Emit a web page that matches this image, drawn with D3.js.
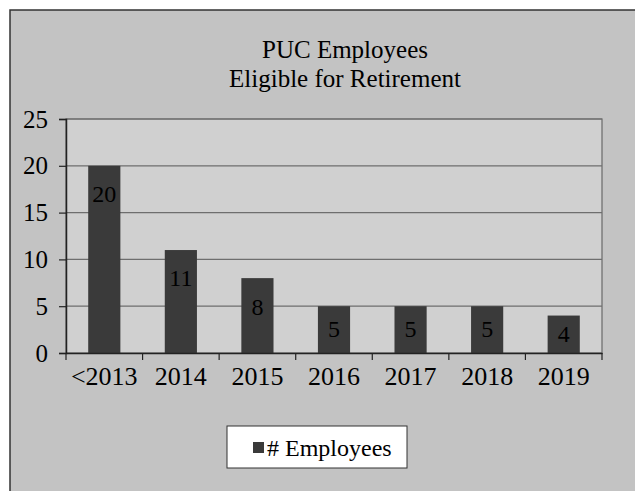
<!DOCTYPE html>
<html>
<head>
<meta charset="utf-8">
<script src="https://cdn.jsdelivr.net/npm/d3@7"></script>
<style>
  body { margin: 0; background: #fff; }
  text { font-family: "Liberation Serif", "Times New Roman", serif; fill: #000; }
</style>
</head>
<body>
<div id="chart"></div>
<script>
// data
var categories = ["<2013", "2014", "2015", "2016", "2017", "2018", "2019"];
var employees = [20, 11, 8, 5, 5, 5, 4];
var yTicks = [0, 5, 10, 15, 20, 25];
var seriesName = "# Employees";
var titleLines = ["PUC Employees", "Eligible for Retirement"];

var W = 635, H = 491;
var plot = {left: 66, right: 602, top: 119, bottom: 353};

var svg = d3.select("#chart").append("svg")
  .attr("width", W).attr("height", H);

// outer chart area
svg.append("rect")
  .attr("x", 10).attr("y", 10).attr("width", W).attr("height", H)
  .attr("fill", "#c3c3c3").attr("stroke", "#333").attr("stroke-width", 1.5);

// title
svg.selectAll(".title").data(titleLines).enter().append("text")
  .attr("class", "title")
  .attr("x", 345).attr("y", function(d, i) { return 58 + i * 29; })
  .attr("text-anchor", "middle").attr("font-size", 25)
  .text(function(d) { return d; });

var x = d3.scaleBand().domain(categories)
  .range([plot.left, plot.right]).paddingInner(0.58).paddingOuter(0.29);
var xOuter = d3.scaleBand().domain(categories).range([plot.left, plot.right]);
var y = d3.scaleLinear().domain([0, 25]).range([plot.bottom, plot.top]);

// plot area
svg.append("rect")
  .attr("x", plot.left).attr("y", plot.top)
  .attr("width", plot.right - plot.left).attr("height", plot.bottom - plot.top)
  .attr("fill", "#d0d0d0").attr("stroke", "#6a6a6a").attr("stroke-width", 1.2);

// gridlines
svg.selectAll(".grid").data(yTicks.slice(1)).enter().append("line")
  .attr("x1", plot.left).attr("x2", plot.right)
  .attr("y1", function(d) { return y(d); }).attr("y2", function(d) { return y(d); })
  .attr("stroke", "#6e6e6e").attr("stroke-width", 1.2);

// y axis
var yAxis = svg.append("g")
  .attr("transform", "translate(" + plot.left + ",0)")
  .call(d3.axisLeft(y).tickValues(yTicks).tickSize(7).tickPadding(11));
yAxis.select(".domain").attr("stroke", "#222").attr("stroke-width", 1.5);
yAxis.selectAll(".tick line").attr("stroke", "#222").attr("stroke-width", 1.2);
yAxis.selectAll("text").attr("font-size", 25).attr("fill", "#000")
  .style("font-family", "'Liberation Serif', serif");

// bars
svg.selectAll(".bar").data(employees).enter().append("rect")
  .attr("class", "bar")
  .attr("x", function(d, i) { return x(categories[i]); })
  .attr("width", x.bandwidth())
  .attr("y", function(d) { return y(d); })
  .attr("height", function(d) { return plot.bottom - y(d); })
  .attr("fill", "#3a3a3a");

// value labels
svg.selectAll(".val").data(employees).enter().append("text")
  .attr("class", "val")
  .attr("x", function(d, i) { return x(categories[i]) + x.bandwidth() / 2; })
  .attr("y", function(d) {
    var h = plot.bottom - y(d);
    return y(d) + Math.min(28, h / 2 - 1);
  })
  .attr("dy", "0.35em")
  .attr("text-anchor", "middle").attr("font-size", 24).attr("fill", "#000")
  .text(function(d) { return d; });

// x axis
var xAxis = svg.append("g")
  .attr("transform", "translate(0," + plot.bottom + ")")
  .call(d3.axisBottom(xOuter).tickSize(0).tickPadding(14));
xAxis.select(".domain").attr("stroke", "#222").attr("stroke-width", 1.5);
xAxis.selectAll("text").attr("font-size", 26).attr("fill", "#000")
  .style("font-family", "'Liberation Serif', serif");
// category boundary ticks
svg.selectAll(".xtick").data(categories.concat([null])).enter().append("line")
  .attr("x1", function(d, i) { return plot.left + i * xOuter.step(); })
  .attr("x2", function(d, i) { return plot.left + i * xOuter.step(); })
  .attr("y1", plot.bottom).attr("y2", plot.bottom + 7)
  .attr("stroke", "#222").attr("stroke-width", 1.2);

// legend
var legend = svg.append("g");
legend.append("rect")
  .attr("x", 227).attr("y", 426).attr("width", 180).attr("height", 42)
  .attr("fill", "#fff").attr("stroke", "#333").attr("stroke-width", 1);
legend.append("rect")
  .attr("x", 253).attr("y", 442).attr("width", 11).attr("height", 11)
  .attr("fill", "#3a3a3a");
legend.append("text")
  .attr("x", 267).attr("y", 456).attr("font-size", 24)
  .text(seriesName);
</script>
</body>
</html>
